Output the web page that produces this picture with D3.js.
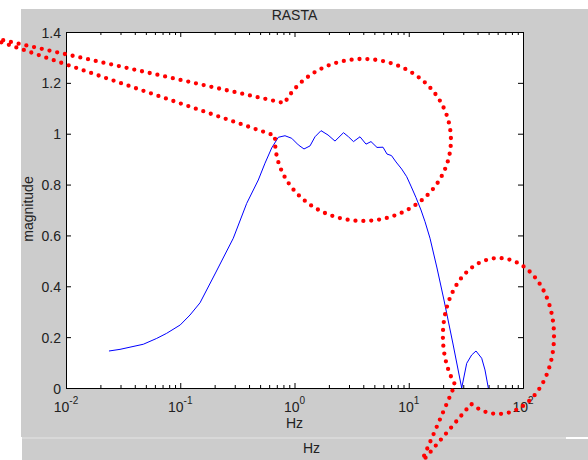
<!DOCTYPE html>
<html>
<head>
<meta charset="utf-8">
<script src="https://cdn.jsdelivr.net/npm/d3@7"></script>
<style>
  html, body { margin: 0; padding: 0; background: #ffffff; }
  svg { display: block; }
  text { font-family: "Liberation Sans", Arial, Helvetica, sans-serif; }
</style>
</head>
<body>
<svg id="chart" width="588" height="460"></svg>
<script>
// ---------------- data ----------------
const titleText = "RASTA";
const xLabelText = "Hz";
const yLabelText = "magnitude";
const footerText = "Hz";

// RASTA filter magnitude response
const freqHz = [
  0.02378, 0.0297, 0.0475, 0.0622, 0.0760, 0.100, 0.1217, 0.1489, 0.2055, 0.2912,
  0.3816, 0.4821, 0.5517, 0.6315, 0.7217, 0.8257, 0.9452, 1.080, 1.211, 1.367,
  1.512, 1.706, 1.965, 2.262, 2.685, 2.969, 3.284, 3.744, 4.225, 4.673,
  5.274, 5.952, 6.451, 7.063, 7.735, 8.676, 9.594, 10.46, 11.57, 12.80,
  13.88, 15.35, 17.67, 20.34, 24.40, 29.07, 32.15, 35.56, 38.79, 43.50,
  46.49, 49.71
];
const magnitude = [
  0.1455, 0.152, 0.172, 0.195, 0.215, 0.248, 0.287, 0.335, 0.456, 0.589,
  0.726, 0.818, 0.884, 0.944, 0.986, 0.992, 0.982, 0.956, 0.940, 0.952,
  0.988, 1.012, 0.995, 0.971, 1.004, 0.988, 0.969, 0.988, 0.959, 0.969,
  0.946, 0.947, 0.920, 0.914, 0.889, 0.861, 0.831, 0.794, 0.749, 0.700,
  0.654, 0.589, 0.472, 0.346, 0.173, 0.0, 0.097, 0.130, 0.1455, 0.117,
  0.071, 0.0
];

const yTickValues = [0, 0.2, 0.4, 0.6, 0.8, 1, 1.2, 1.4];
const yTickLabels = ["0", "0.2", "0.4", "0.6", "0.8", "1", "1.2", "1.4"];
const xTickExponents = [-2, -1, 0, 1, 2];

// Red dotted callouts, described in data units (Hz, magnitude)
// ellipse bounds: [left Hz, right Hz, top magnitude, bottom magnitude]
const callout1Bounds = [0.675, 23.4, 1.294, 0.657];
const callout1Tip = [0.00177, 1.388];
const callout1Angles = [207, 543];
const callout2Bounds = [19.9, 186.8, 0.511, -0.102];
const callout2Tip = [12.8, -0.295];
const callout2Angles = [141.4, 479.4];

// ---------------- drawing ----------------
const svg = d3.select("#chart");
const plot = { left: 66, right: 523, top: 32, bottom: 388 };

const x = d3.scaleLog().domain([0.01, 100]).range([plot.left, plot.right]);
const y = d3.scaleLinear().domain([0, 1.4]).range([plot.bottom, plot.top]);

// backgrounds
svg.append("rect").attr("x", 0).attr("y", 0).attr("width", 588).attr("height", 460).attr("fill", "#ffffff");
svg.append("rect").attr("x", 21).attr("y", 9).attr("width", 567).attr("height", 428).attr("fill", "#cccccc");
svg.append("rect").attr("x", 22).attr("y", 439).attr("width", 566).attr("height", 21).attr("fill", "#cccccc");
svg.append("line").attr("x1", 22).attr("x2", 566).attr("y1", 438).attr("y2", 438)
  .attr("stroke", "#d8d8d8").attr("stroke-width", 2);
svg.append("rect").attr("x", plot.left).attr("y", plot.top)
  .attr("width", plot.right - plot.left).attr("height", plot.bottom - plot.top).attr("fill", "#ffffff");

// tick values
const allX = x.ticks();
const majorX = xTickExponents.map(e => Math.pow(10, e));
const minorX = allX.filter(v => !majorX.some(m => Math.abs(m - v) / m < 1e-6));

function styleAxis(g) {
  g.selectAll("path.domain").attr("stroke", "#000").attr("stroke-width", 1);
  g.selectAll(".tick line").attr("stroke", "#000").attr("stroke-width", 1);
  g.attr("font-family", null).attr("font-size", null);
}

// bottom axis
svg.append("g").attr("transform", `translate(0,${plot.bottom})`)
  .call(d3.axisBottom(x).tickValues(minorX).tickSizeInner(-3).tickSizeOuter(0).tickFormat(""))
  .call(styleAxis);
svg.append("g").attr("transform", `translate(0,${plot.bottom})`)
  .call(d3.axisBottom(x).tickValues(majorX).tickSizeInner(-5).tickSizeOuter(0).tickFormat(""))
  .call(styleAxis);
// top axis
svg.append("g").attr("transform", `translate(0,${plot.top})`)
  .call(d3.axisTop(x).tickValues(minorX).tickSizeInner(-3).tickSizeOuter(0).tickFormat(""))
  .call(styleAxis);
svg.append("g").attr("transform", `translate(0,${plot.top})`)
  .call(d3.axisTop(x).tickValues(majorX).tickSizeInner(-5).tickSizeOuter(0).tickFormat(""))
  .call(styleAxis);
// left axis
const leftAxis = svg.append("g").attr("transform", `translate(${plot.left},0)`)
  .call(d3.axisLeft(y).tickValues(yTickValues).tickSizeInner(-5).tickSizeOuter(0).tickPadding(5)
    .tickFormat((d, i) => yTickLabels[i]))
  .call(styleAxis);
leftAxis.selectAll(".tick text")
  .attr("fill", "#222").attr("font-size", "14px").attr("dy", "0.36em")
  .style("font-family", "'Liberation Sans', Arial, sans-serif");
// right axis
svg.append("g").attr("transform", `translate(${plot.right},0)`)
  .call(d3.axisRight(y).tickValues(yTickValues).tickSizeInner(-5).tickSizeOuter(0).tickFormat(""))
  .call(styleAxis);

// x tick labels with superscript exponents
const xl = svg.append("g");
xTickExponents.forEach(e => {
  const t = xl.append("text")
    .attr("x", x(Math.pow(10, e)))
    .attr("y", 412)
    .attr("text-anchor", "middle")
    .attr("fill", "#222")
    .attr("font-size", "14px");
  t.append("tspan").text("10");
  t.append("tspan").attr("dy", -8.5).attr("font-size", "10px").text(String(e));
});

// curve
const line = d3.line().x(d => x(d[0])).y(d => y(d[1]));
svg.append("path")
  .datum(freqHz.map((f, i) => [f, magnitude[i]]))
  .attr("d", line)
  .attr("fill", "none")
  .attr("stroke", "#0000ff")
  .attr("stroke-width", 1);

// labels
svg.append("text").attr("x", (plot.left + plot.right) / 2).attr("y", 20)
  .attr("text-anchor", "middle").attr("font-size", "14px").attr("fill", "#222").text(titleText);
svg.append("text").attr("x", (plot.left + plot.right) / 2).attr("y", 428)
  .attr("text-anchor", "middle").attr("font-size", "14px").attr("fill", "#222").text(xLabelText);
svg.append("text").attr("transform", `translate(33,${(plot.top + plot.bottom) / 2 - 1}) rotate(-90)`)
  .attr("text-anchor", "middle").attr("font-size", "14px").attr("fill", "#222").text(yLabelText);
svg.append("text").attr("x", 311.5).attr("y", 453)
  .attr("text-anchor", "middle").attr("font-size", "14px").attr("fill", "#222").text(footerText);

// callouts
function calloutPoints(bounds, tip, angles) {
  const [l, r, t, b] = bounds;
  const cx = (x(l) + x(r)) / 2, rx = (x(r) - x(l)) / 2;
  const cy = (y(t) + y(b)) / 2, ry = (y(b) - y(t)) / 2;
  const pts = [[x(tip[0]), y(tip[1])]];
  for (let a = angles[0]; a <= angles[1] + 1e-9; a += 1) {
    const rad = a * Math.PI / 180;
    pts.push([cx + rx * Math.cos(rad), cy + ry * Math.sin(rad)]);
  }
  pts.push([x(tip[0]), y(tip[1])]);
  return pts;
}
const dotted = d3.line();
[[callout1Bounds, callout1Tip, callout1Angles], [callout2Bounds, callout2Tip, callout2Angles]].forEach(c => {
  svg.append("path")
    .attr("d", dotted(calloutPoints(c[0], c[1], c[2])))
    .attr("fill", "none")
    .attr("stroke", "#ff0000")
    .attr("stroke-width", 4.3)
    .attr("stroke-linecap", "round")
    .attr("stroke-dasharray", "0 7.9");
});
</script>
</body>
</html>
